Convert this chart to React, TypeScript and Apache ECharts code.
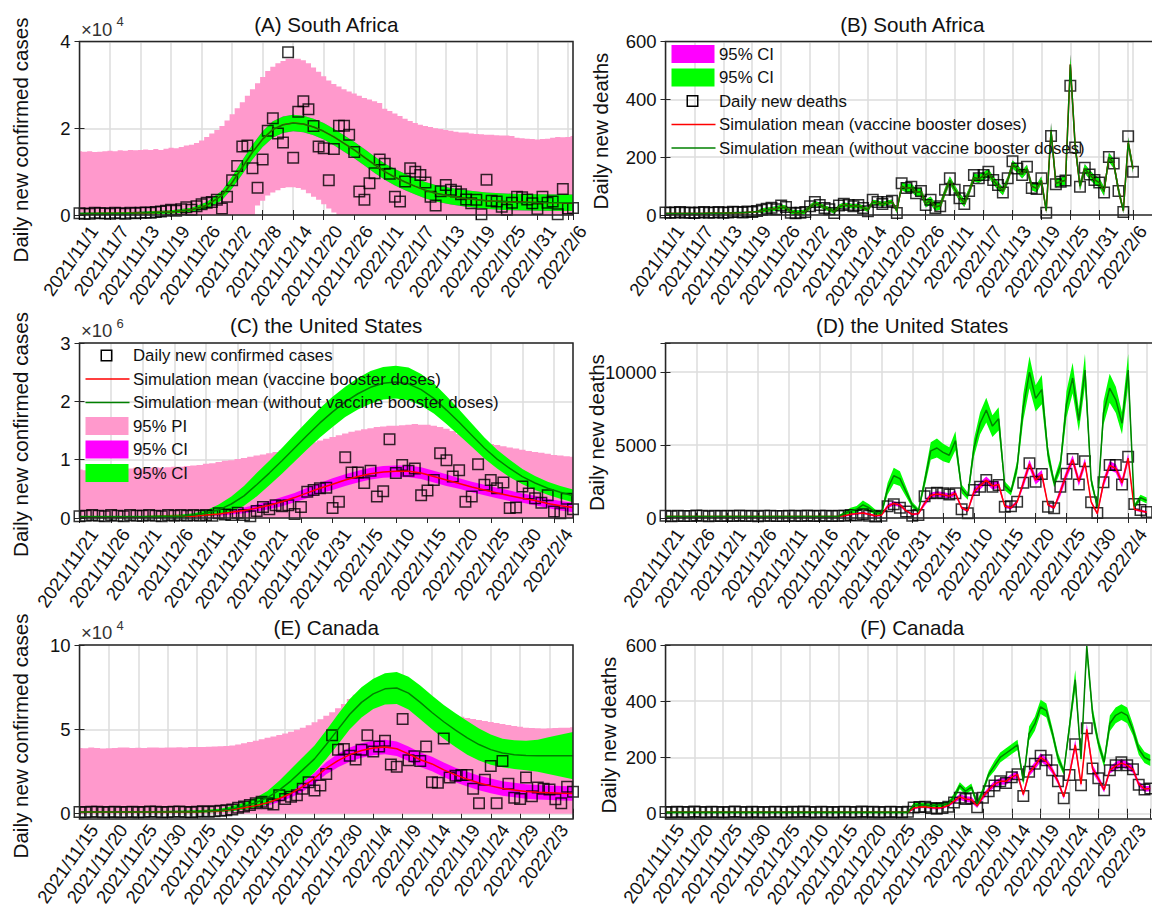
import React, { useEffect, useRef } from "react";
import * as echarts from "echarts";

const FONT = '"Liberation Sans", Arial, Helvetica, sans-serif';
const TXT = "#111111";
const AX = "#262626";
const GRIDC = "#dddddd";
const PINK = "#FF99CC";
const MAGENTA = "#FF00FF";
const GREEN = "#00FF00";
const DKGREEN = "#008000";
const RED = "#FF0000";

// ---------------- tick labels ----------------
const saTickLabels = ["2021/11/1", "2021/11/7", "2021/11/13", "2021/11/19", "2021/11/26", "2021/12/2", "2021/12/8", "2021/12/14", "2021/12/20", "2021/12/26", "2022/1/1", "2022/1/7", "2022/1/13", "2022/1/19", "2022/1/25", "2022/1/31", "2022/2/6"];
const usTickLabels = ["2021/11/21", "2021/11/26", "2021/12/1", "2021/12/6", "2021/12/11", "2021/12/16", "2021/12/21", "2021/12/26", "2021/12/31", "2022/1/5", "2022/1/10", "2022/1/15", "2022/1/20", "2022/1/25", "2022/1/30", "2022/2/4"];
const caTickLabels = ["2021/11/15", "2021/11/20", "2021/11/25", "2021/11/30", "2021/12/5", "2021/12/10", "2021/12/15", "2021/12/20", "2021/12/25", "2021/12/30", "2022/1/4", "2022/1/9", "2022/1/14", "2022/1/19", "2022/1/24", "2022/1/29", "2022/2/3"];

// ---------------- (A) South Africa cases (x1e4), 98 days ----------------
const saCases = [
  0.04, 0.03, 0.03, 0.05, 0.04, 0.04, 0.03, 0.05, 0.04, 0.03,
  0.05, 0.04, 0.05, 0.06, 0.05, 0.07, 0.08, 0.1, 0.12, 0.1,
  0.13, 0.18, 0.12, 0.2, 0.25, 0.28, 0.3, 0.35, 0.15, 0.42,
  0.8, 1.13, 1.58, 1.6, 1.08, 0.63, 1.28, 1.94, 2.23, 1.88,
  1.67, 3.75, 1.32, 2.38, 2.62, 2.44, 2.05, 1.58, 1.54, 0.8,
  1.52, 2.06, 2.06, 1.85, 1.45, 0.54, 0.35, 0.73, 0.96, 1.28,
  1.18, 0.95, 0.42, 0.31, 0.77, 1.08, 1.0, 0.92, 0.75, 0.42,
  0.22, 0.55, 0.69, 0.58, 0.54, 0.48, 0.36, 0.27, 0.35, 0.02,
  0.81, 0.33, 0.31, 0.19, 0.12, 0.28, 0.42, 0.41, 0.36, 0.27,
  0.14, 0.42, 0.28, 0.31, 0.02, 0.6, 0.15, 0.16,
];
const saPIUpper = [
  1.47, 1.46, 1.47, 1.45, 1.46, 1.47, 1.48, 1.47, 1.49, 1.48,
  1.5, 1.49, 1.5, 1.51, 1.5, 1.52, 1.5, 1.53, 1.55, 1.54,
  1.57, 1.6, 1.62, 1.66, 1.72, 1.8, 1.88, 1.96, 2.05, 2.18,
  2.32, 2.46, 2.6, 2.75, 2.9, 3.04, 3.18, 3.32, 3.42, 3.5,
  3.55, 3.6, 3.6, 3.6, 3.57, 3.5, 3.4, 3.3, 3.2, 3.1,
  3.02, 2.96, 2.9, 2.85, 2.8, 2.75, 2.7, 2.66, 2.62, 2.58,
  2.45, 2.4, 2.34, 2.28, 2.22, 2.17, 2.12, 2.08, 2.05, 2.03,
  2.0, 1.98, 1.96, 1.94, 1.92, 1.9, 1.9, 1.88, 1.87, 1.86,
  1.85, 1.85, 1.84, 1.83, 1.83, 1.82, 1.78, 1.77, 1.76, 1.75,
  1.74, 1.75, 1.76, 1.78, 1.8, 1.79, 1.8, 1.82,
];
const saPILower = [
  0, 0, 0, 0, 0, 0, 0, 0, 0, 0,
  0, 0, 0, 0, 0, 0, 0, 0, 0, 0,
  0, 0, 0, 0, 0, 0, 0, 0, 0, 0,
  0, 0, 0, 0, 0, 0.22, 0.33, 0.45, 0.52, 0.57,
  0.62, 0.64, 0.64, 0.62, 0.58, 0.5, 0.42, 0.35, 0.25, 0.15,
  0.06, 0, 0, 0, 0, 0, 0, 0, 0, 0,
  0, 0, 0, 0, 0, 0, 0, 0, 0, 0,
  0, 0, 0, 0, 0, 0, 0, 0, 0, 0,
  0, 0, 0, 0, 0, 0, 0, 0, 0, 0,
  0, 0, 0, 0, 0, 0, 0, 0,
];
const saKeyX = [0, 10, 18, 22, 25, 28, 30, 32, 34, 36, 38, 40, 42, 44, 46, 48, 50, 52, 54, 56, 58, 60, 62, 64, 66, 68, 70, 73, 76, 80, 85, 90, 97];
const saCaseMean = [0.03, 0.04, 0.07, 0.12, 0.22, 0.45, 0.75, 1.1, 1.45, 1.75, 1.97, 2.08, 2.12, 2.1, 2.03, 1.93, 1.8, 1.65, 1.5, 1.33, 1.16, 1.0, 0.87, 0.76, 0.66, 0.57, 0.5, 0.43, 0.38, 0.33, 0.3, 0.29, 0.28];
const saCaseHW = [0.03, 0.03, 0.04, 0.05, 0.08, 0.11, 0.14, 0.16, 0.17, 0.18, 0.19, 0.19, 0.19, 0.19, 0.19, 0.19, 0.19, 0.19, 0.19, 0.19, 0.19, 0.19, 0.19, 0.19, 0.19, 0.19, 0.19, 0.19, 0.19, 0.19, 0.19, 0.19, 0.19];

// ---------------- (B) South Africa deaths, 98 days ----------------
const saDeaths = [
  9, 8, 9, 10, 8, 9, 7, 9, 10, 8,
  9, 10, 8, 9, 11, 10, 9, 12, 10, 14,
  18, 22, 25, 20, 33, 28, 8, 6, 8, 10,
  30, 45, 35, 24, 20, 7, 33, 39, 35, 30,
  35, 24, 13, 53, 45, 38, 45, 49, 7, 110,
  93, 98, 75, 83, 35, 53, 24, 30, 87, 127,
  87, 58, 38, 83, 138, 127, 138, 150, 121, 104,
  78, 127, 186, 161, 138, 167, 93, 90, 127, 8,
  273, 106, 115, 119, 447, 233, 98, 163, 140, 121,
  112, 78, 201, 178, 83, 10, 272, 150,
];
const saDeathMean = [
  5, 5, 5, 5, 5, 5, 5, 5, 5, 6,
  6, 6, 6, 7, 7, 8, 8, 9, 10, 12,
  15, 18, 20, 22, 28, 25, 12, 8, 8, 12,
  28, 40, 35, 26, 20, 12, 28, 35, 33, 30,
  32, 25, 18, 45, 42, 38, 42, 46, 15, 100,
  92, 95, 78, 80, 40, 50, 28, 32, 80, 120,
  90, 62, 42, 80, 130, 125, 135, 145, 120, 100,
  82, 120, 175, 160, 140, 160, 100, 92, 120, 15,
  290, 110, 115, 120, 520, 240, 100, 160, 140, 122,
  112, 82, 200, 178, 86, 15, 250, 160,
];
const saDeathSpread = [
  3, 3, 3, 3, 3, 3, 3, 3, 3, 3,
  3, 3, 3, 3, 3, 3, 3, 3, 3, 3,
  8, 8, 8, 8, 8, 8, 8, 8, 8, 8,
  8, 8, 8, 8, 8, 8, 8, 8, 8, 8,
  8, 8, 8, 8, 8, 8, 8, 8, 8, 14,
  14, 14, 14, 14, 14, 14, 14, 14, 14, 14,
  14, 14, 14, 14, 14, 14, 14, 14, 14, 14,
  14, 14, 14, 14, 14, 14, 14, 14, 14, 10,
  28, 15, 15, 15, 35, 22, 16, 16, 16, 16,
  16, 16, 16, 16, 16, 10, 20, 16,
];

// ---------------- (C) United States cases (x1e6), 79 days ----------------
const usCases = [
  0.03, 0.04, 0.05, 0.04, 0.03, 0.05, 0.04, 0.03, 0.05, 0.04,
  0.04, 0.05, 0.04, 0.03, 0.05, 0.04, 0.05, 0.04, 0.05, 0.04,
  0.05, 0.04, 0.08, 0.06, 0.05, 0.09, 0.05, 0.03, 0.12, 0.19,
  0.15, 0.22, 0.2, 0.22, 0.07, 0.19, 0.45, 0.48, 0.51, 0.52,
  0.17, 0.28, 1.04, 0.78, 0.78, 0.6, 0.81, 0.37, 0.46, 1.35,
  0.77, 0.91, 0.81, 0.85, 0.39, 0.47, 0.65, 1.11, 0.99, 0.71,
  0.82, 0.28, 0.37, 0.92, 0.57, 0.65, 0.51, 0.61, 0.17, 0.18,
  0.54, 0.42, 0.34, 0.26, 0.39, 0.11, 0.08, 0.33, 0.15,
];
const usPIUpper = [
  0.83, 0.82, 0.83, 0.84, 0.83, 0.84, 0.85, 0.84, 0.85, 0.86,
  0.85, 0.86, 0.87, 0.86, 0.87, 0.88, 0.88, 0.89, 0.9, 0.91,
  0.93, 0.94, 0.96, 0.98, 0.99, 1.01, 1.03, 1.05, 1.07, 1.09,
  1.11, 1.13, 1.16, 1.18, 1.21, 1.24, 1.27, 1.3, 1.33, 1.36,
  1.39, 1.42, 1.45, 1.48, 1.5, 1.52, 1.54, 1.56, 1.57, 1.58,
  1.58, 1.59, 1.6, 1.61, 1.6, 1.6, 1.58, 1.56, 1.53, 1.49,
  1.44, 1.39, 1.35, 1.32, 1.29, 1.27, 1.25, 1.23, 1.21, 1.19,
  1.17, 1.15, 1.13, 1.12, 1.1, 1.08, 1.07, 1.06, 1.05,
];
const usKeyX = [0, 10, 16, 18, 20, 22, 24, 26, 28, 30, 32, 34, 36, 38, 40, 42, 44, 46, 48, 50, 52, 54, 56, 58, 60, 62, 64, 66, 68, 70, 72, 74, 76, 78];
const usGreenMean = [0.02, 0.02, 0.03, 0.05, 0.08, 0.14, 0.24, 0.38, 0.57, 0.77, 0.98, 1.2, 1.42, 1.63, 1.82, 1.99, 2.13, 2.24, 2.31, 2.33, 2.3, 2.2, 2.05, 1.85, 1.64, 1.42, 1.2, 1.01, 0.85, 0.71, 0.6, 0.51, 0.44, 0.38];
const usGreenHW = [0.02, 0.02, 0.03, 0.03, 0.05, 0.09, 0.13, 0.17, 0.2, 0.21, 0.22, 0.23, 0.24, 0.25, 0.26, 0.26, 0.27, 0.28, 0.28, 0.28, 0.28, 0.27, 0.26, 0.24, 0.22, 0.2, 0.18, 0.16, 0.15, 0.13, 0.12, 0.11, 0.11, 0.11];
const usRedMean = [0.02, 0.02, 0.03, 0.03, 0.05, 0.07, 0.1, 0.13, 0.17, 0.22, 0.28, 0.35, 0.43, 0.51, 0.58, 0.65, 0.71, 0.76, 0.79, 0.8, 0.8, 0.77, 0.71, 0.65, 0.59, 0.53, 0.48, 0.43, 0.38, 0.34, 0.3, 0.25, 0.21, 0.18];
const usRedHW = [0.01, 0.01, 0.01, 0.02, 0.02, 0.03, 0.04, 0.05, 0.06, 0.07, 0.08, 0.08, 0.09, 0.09, 0.1, 0.1, 0.1, 0.1, 0.1, 0.1, 0.1, 0.1, 0.1, 0.1, 0.09, 0.09, 0.09, 0.09, 0.09, 0.08, 0.08, 0.08, 0.08, 0.08];

// ---------------- (D) United States deaths, 79 days ----------------
const usDeaths = [
  150, 120, 160, 140, 130, 170, 150, 120, 160, 140,
  150, 130, 170, 140, 150, 120, 160, 150, 140, 130,
  160, 150, 140, 170, 130, 150, 160, 140, 150, 150,
  200, 180, 250, 150, 100, 150, 800, 950, 700, 450,
  150, 200, 1500, 1690, 1740, 1700, 1620, 1690, 594, 320,
  1920, 2150, 2600, 2150, 2263, 777, 800, 1120, 2423, 3749,
  2492, 3017, 777, 663, 2149, 3040, 4050, 2300, 3900, 1080,
  340, 2450, 3640, 3640, 2300, 4200, 960, 550, 420,
];
const usDeathRed = [
  100, 100, 100, 100, 100, 100, 100, 100, 100, 100,
  100, 100, 100, 100, 100, 100, 100, 100, 100, 100,
  100, 100, 100, 100, 100, 100, 100, 100, 100, 150,
  250, 300, 350, 250, 150, 200, 800, 1000, 900, 500,
  250, 300, 1000, 1550, 1650, 1600, 1500, 1700, 700, 500,
  1800, 2200, 2600, 2200, 2300, 800, 700, 1100, 2400, 3700,
  2600, 3000, 900, 700, 1800, 3000, 4000, 2500, 3800, 1100,
  300, 2400, 3600, 3400, 2400, 4100, 600, 500, 400,
];
const usDeathRedSpread = [
  40, 40, 40, 40, 40, 40, 40, 40, 40, 40,
  40, 40, 40, 40, 40, 40, 40, 40, 40, 40,
  40, 40, 40, 40, 40, 40, 40, 40, 40, 80,
  80, 80, 80, 80, 80, 80, 150, 150, 150, 80,
  80, 80, 180, 180, 180, 180, 180, 180, 100, 100,
  250, 250, 250, 250, 250, 120, 120, 120, 300, 300,
  300, 300, 100, 100, 300, 300, 300, 300, 300, 100,
  100, 300, 300, 300, 300, 300, 80, 80, 80,
];
const usDeathGreen = [
  100, 100, 100, 100, 100, 100, 100, 100, 100, 100,
  100, 100, 100, 100, 100, 100, 100, 100, 100, 100,
  100, 100, 100, 100, 100, 100, 100, 100, 100, 300,
  500, 600, 900, 700, 400, 300, 2000, 2900, 2700, 1800,
  900, 500, 2500, 4600, 4800, 4500, 4300, 5300, 2000, 1500,
  4800, 6500, 7400, 6300, 6800, 2200, 1800, 3500, 7600, 10000,
  8200, 8800, 4400, 2400, 3600, 7800, 9600, 6700, 10150, 2600,
  780, 7200, 8900, 8100, 6500, 10150, 800, 1400, 1200,
];
const usDeathGreenSpread = [
  60, 60, 60, 60, 60, 60, 60, 60, 60, 60,
  60, 60, 60, 60, 60, 60, 60, 60, 60, 60,
  60, 60, 60, 60, 60, 60, 60, 60, 60, 150,
  200, 220, 300, 250, 180, 150, 400, 550, 500, 350,
  200, 150, 400, 600, 650, 600, 550, 650, 300, 250,
  600, 750, 850, 750, 800, 300, 250, 450, 900, 1100,
  900, 1000, 500, 300, 450, 900, 1050, 750, 1100, 350,
  150, 800, 1000, 900, 750, 1100, 150, 200, 200,
];

// ---------------- (E) Canada cases (x1e4), 85 days ----------------
const caCases = [
  0.1, 0.08, 0.12, 0.11, 0.09, 0.1, 0.12, 0.08, 0.1, 0.11,
  0.09, 0.1, 0.13, 0.11, 0.09, 0.1, 0.12, 0.13, 0.1, 0.09,
  0.12, 0.14, 0.12, 0.15, 0.18, 0.2, 0.25, 0.35, 0.42, 0.52,
  0.62, 0.71, 0.62, 0.55, 1.1, 0.87, 1.0, 1.1, 1.48, 1.87,
  1.38, 1.67, 2.35, 4.65, 3.79, 3.83, 3.44, 3.21, 3.79, 4.65,
  3.69, 3.98, 4.33, 2.92, 2.79, 5.62, 3.17, 3.4, 3.12, 3.98,
  1.87, 1.83, 4.46, 2.15, 2.25, 2.3, 2.3, 1.48, 0.62, 2.02,
  2.83, 0.62, 3.12, 1.77, 0.94, 0.87, 2.15, 1.04, 1.55, 1.48,
  1.44, 0.85, 0.62, 1.6, 1.3,
];
const caPIUpper = [
  3.9, 3.88, 3.92, 3.9, 3.86, 3.88, 3.9, 3.93, 3.92, 3.9,
  3.91, 3.9, 3.92, 3.93, 3.91, 3.92, 3.93, 3.94, 3.93, 3.95,
  3.95, 3.96, 3.97, 3.98, 4.0, 4.02, 4.05, 4.1, 4.17, 4.25,
  4.33, 4.42, 4.5, 4.58, 4.66, 4.75, 4.86, 4.97, 5.1, 5.25,
  5.42, 5.6, 5.8, 6.02, 6.25, 6.5, 6.8, 7.05, 7.3, 7.5,
  7.65, 7.75, 7.8, 7.8, 7.75, 7.65, 7.5, 7.3, 7.05, 6.75,
  6.5, 6.3, 6.1, 5.95, 5.85, 5.75, 5.68, 5.62, 5.56, 5.5,
  5.44, 5.38, 5.32, 5.26, 5.2, 5.15, 5.1, 5.08, 5.06, 5.05,
  5.06, 5.08, 5.1, 5.1, 5.12,
];
const caKeyX = [0, 10, 20, 24, 26, 28, 30, 32, 34, 36, 38, 40, 42, 44, 46, 48, 50, 52, 54, 56, 58, 60, 62, 64, 66, 68, 70, 72, 74, 76, 78, 80, 82, 84];
const caGreenMean = [0.1, 0.1, 0.12, 0.2, 0.3, 0.45, 0.65, 0.95, 1.4, 1.95, 2.6, 3.25, 4.1, 5.0, 5.9, 6.6, 7.1, 7.4, 7.45, 7.15, 6.6, 6.0, 5.45, 4.95, 4.5, 4.1, 3.8, 3.6, 3.5, 3.45, 3.44, 3.44, 3.44, 3.44];
const caGreenHW = [0.05, 0.05, 0.08, 0.1, 0.15, 0.2, 0.3, 0.4, 0.55, 0.7, 0.75, 0.8, 0.85, 0.9, 0.9, 0.9, 0.9, 0.92, 0.95, 0.97, 1.0, 1.0, 1.0, 1.0, 1.0, 0.95, 0.9, 0.85, 0.85, 0.88, 0.95, 1.1, 1.25, 1.4];
const caRedMean = [0.1, 0.1, 0.12, 0.18, 0.25, 0.35, 0.48, 0.65, 0.9, 1.2, 1.6, 2.1, 2.7, 3.15, 3.5, 3.75, 3.9, 3.95, 3.85, 3.55, 3.2, 2.95, 2.6, 2.3, 2.05, 1.82, 1.65, 1.5, 1.4, 1.32, 1.27, 1.24, 1.21, 1.2];
const caRedHW = [0.04, 0.04, 0.05, 0.06, 0.08, 0.1, 0.13, 0.17, 0.2, 0.24, 0.28, 0.32, 0.36, 0.4, 0.42, 0.43, 0.43, 0.43, 0.43, 0.43, 0.43, 0.43, 0.43, 0.43, 0.43, 0.43, 0.43, 0.43, 0.43, 0.43, 0.43, 0.43, 0.43, 0.43];

// ---------------- (F) Canada deaths, 85 days ----------------
const caDeaths = [
  6, 5, 7, 6, 5, 8, 6, 5, 7, 6,
  5, 6, 8, 6, 5, 7, 6, 5, 6, 7,
  6, 5, 7, 6, 8, 6, 5, 7, 6, 5,
  6, 7, 6, 5, 8, 6, 7, 5, 6, 7,
  6, 5, 7, 22, 24, 25, 20, 18, 20, 25,
  40, 57, 52, 55, 23, 57, 80, 100, 115, 109,
  130, 140, 63, 149, 178, 206, 190, 155, 115, 55,
  138, 247, 101, 304, 161, 126, 83, 155, 172, 183,
  172, 158, 103, 86, 90,
];
const caDeathRed = [
  5, 5, 5, 5, 5, 5, 5, 5, 5, 5,
  5, 5, 5, 5, 5, 5, 5, 5, 5, 5,
  5, 5, 5, 5, 5, 5, 5, 5, 5, 5,
  5, 5, 5, 5, 5, 5, 5, 5, 5, 5,
  5, 5, 5, 20, 24, 25, 22, 20, 22, 30,
  45, 60, 52, 50, 28, 60, 85, 105, 115, 115,
  130, 140, 68, 145, 170, 200, 185, 155, 115, 60,
  140, 245, 105, 300, 160, 125, 85, 155, 170, 180,
  172, 158, 105, 88, 90,
];
const caDeathRedSpread = [
  3, 3, 3, 3, 3, 3, 3, 3, 3, 3,
  3, 3, 3, 3, 3, 3, 3, 3, 3, 3,
  3, 3, 3, 3, 3, 3, 3, 3, 3, 3,
  3, 3, 3, 3, 3, 3, 3, 3, 3, 3,
  3, 3, 3, 5, 5, 5, 5, 5, 5, 5,
  8, 10, 10, 10, 8, 10, 10, 12, 12, 12,
  12, 12, 8, 12, 14, 15, 14, 12, 10, 8,
  12, 18, 10, 20, 14, 12, 10, 12, 14, 14,
  14, 12, 10, 10, 10,
];
const caDeathGreen = [
  5, 5, 5, 5, 5, 5, 5, 5, 5, 5,
  5, 5, 5, 5, 5, 5, 5, 5, 5, 5,
  5, 5, 5, 5, 5, 5, 5, 5, 5, 5,
  5, 5, 5, 5, 5, 5, 5, 5, 5, 5,
  5, 5, 5, 30, 32, 30, 28, 30, 32, 35,
  60, 100, 80, 95, 35, 80, 140, 170, 200, 215,
  230, 245, 115, 285, 320, 380, 367, 290, 200, 150,
  310, 476, 195, 596, 356, 252, 183, 321, 350, 361,
  350, 298, 230, 200, 190,
];
const caDeathGreenSpread = [
  4, 4, 4, 4, 4, 4, 4, 4, 4, 4,
  4, 4, 4, 4, 4, 4, 4, 4, 4, 4,
  4, 4, 4, 4, 4, 4, 4, 4, 4, 4,
  4, 4, 4, 4, 4, 4, 4, 4, 4, 4,
  4, 4, 4, 8, 8, 8, 8, 8, 8, 8,
  12, 12, 12, 12, 12, 12, 12, 18, 18, 18,
  18, 18, 12, 25, 25, 25, 25, 18, 18, 12,
  22, 35, 15, 40, 25, 18, 18, 28, 28, 28,
  28, 20, 20, 20, 20,
];

// ---------------- layout ----------------
const COL_LEFT = [79.5, 665.5];
const PLOT_W = 493.5;
const ROWS = [
  { top: 41.5, h: 173.5 },
  { top: 343, h: 175 },
  { top: 645, h: 174 },
];

const panels = [
  { col: 0, row: 0, n: 98, step: 6, ticks: saTickLabels, yMax: 4, yInt: 2, title: "(A) South Africa", ylabel: "Daily new confirmed cases", yl: [20, 140], exp: "4" },
  { col: 1, row: 0, n: 98, step: 6, ticks: saTickLabels, yMax: 600, yInt: 200, title: "(B) South Africa", ylabel: "Daily new deaths", yl: [600, 131], exp: null },
  { col: 0, row: 1, n: 79, step: 5, ticks: usTickLabels, yMax: 3, yInt: 1, title: "(C) the United States", ylabel: "Daily new confirmed cases", yl: [20, 434.5], exp: "6" },
  { col: 1, row: 1, n: 79, step: 5, ticks: usTickLabels, yMax: 12000, yInt: 5000, title: "(D) the United States", ylabel: "Daily new deaths", yl: [596, 432.5], exp: null },
  { col: 0, row: 2, n: 85, step: 5, ticks: caTickLabels, yMax: 10, yInt: 5, title: "(E) Canada", ylabel: "Daily new confirmed cases", yl: [20, 736], exp: "4" },
  { col: 1, row: 2, n: 85, step: 5, ticks: caTickLabels, yMax: 600, yInt: 200, title: "(F) Canada", ylabel: "Daily new deaths", yl: [608, 735], exp: null },
];

const legendB = [
  { kind: "patch", color: MAGENTA, label: "95% CI" },
  { kind: "patch", color: GREEN, label: "95% CI" },
  { kind: "marker", color: "#000", label: "Daily new deaths" },
  { kind: "line", color: RED, label: "Simulation mean (vaccine booster doses)" },
  { kind: "line", color: DKGREEN, label: "Simulation mean (without vaccine booster doses)" },
];
const legendC = [
  { kind: "marker", color: "#000", label: "Daily new confirmed cases" },
  { kind: "line", color: RED, label: "Simulation mean (vaccine booster doses)" },
  { kind: "line", color: DKGREEN, label: "Simulation mean (without vaccine booster doses)" },
  { kind: "patch", color: PINK, label: "95% PI" },
  { kind: "patch", color: MAGENTA, label: "95% CI" },
  { kind: "patch", color: GREEN, label: "95% CI" },
];

// ---------------- helpers ----------------
const range = (n: number) => Array.from({ length: n }, (_, i) => i);

function bandSeries(g: number, xs: number[], lo: number[], hi: number[], color: string, stair: boolean, n: number, yMax: number, z: number) {
  const clampY = (v: number) => Math.max(0, Math.min(v, yMax));
  return {
    type: "custom",
    xAxisIndex: 2 * g,
    yAxisIndex: 2 * g,
    silent: true,
    z,
    data: xs.map((x, k) => [x, lo[k], hi[k]]),
    encode: { x: 0, y: [1, 2] },
    renderItem: (params: any, api: any) => {
      if (params.dataIndex !== 0) return null;
      const pts: number[][] = [];
      if (stair) {
        for (let k = 0; k < xs.length; k++) {
          const a = Math.max(xs[k] - 0.5, 0);
          const b = Math.min(xs[k] + 0.5, n - 1);
          pts.push(api.coord([a, clampY(hi[k])]));
          pts.push(api.coord([b, clampY(hi[k])]));
        }
        for (let k = xs.length - 1; k >= 0; k--) {
          const a = Math.max(xs[k] - 0.5, 0);
          const b = Math.min(xs[k] + 0.5, n - 1);
          pts.push(api.coord([b, clampY(lo[k])]));
          pts.push(api.coord([a, clampY(lo[k])]));
        }
      } else {
        for (let k = 0; k < xs.length; k++) pts.push(api.coord([xs[k], clampY(hi[k])]));
        for (let k = xs.length - 1; k >= 0; k--) pts.push(api.coord([xs[k], clampY(lo[k])]));
      }
      return { type: "polygon", shape: { points: pts }, style: { fill: color, stroke: null } };
    },
  };
}

function meanSpreadBand(g: number, xs: number[], mean: number[], spread: number[], color: string, n: number, yMax: number, z: number) {
  const lo = mean.map((m, k) => Math.max(0, m - spread[k]));
  const hi = mean.map((m, k) => m + spread[k]);
  return bandSeries(g, xs, lo, hi, color, false, n, yMax, z);
}

function lineSeries(g: number, xs: number[], ys: number[], color: string, z: number) {
  return {
    type: "line",
    xAxisIndex: 2 * g,
    yAxisIndex: 2 * g,
    silent: true,
    z,
    clip: true,
    showSymbol: false,
    symbol: "none",
    data: xs.map((x, k) => [x, ys[k]]),
    lineStyle: { color, width: 1.5 },
  };
}

function squareSeries(g: number, ys: number[], z: number) {
  return {
    type: "scatter",
    xAxisIndex: 2 * g,
    yAxisIndex: 2 * g,
    silent: true,
    z,
    clip: false,
    symbol: "rect",
    symbolSize: 10.5,
    data: ys.map((v, i) => [i, v]),
    itemStyle: { color: "rgba(0,0,0,0)", borderColor: "#000", borderWidth: 1.5 },
  };
}

function buildOption() {
  const grid: any[] = [];
  const xAxis: any[] = [];
  const yAxis: any[] = [];
  const graphics: any[] = [];

  panels.forEach((p, g) => {
    const left = COL_LEFT[p.col];
    const { top, h } = ROWS[p.row];
    grid.push({ left, top, width: PLOT_W, height: h, show: false, containLabel: false });

    const tickStyle = { inside: true, length: 5, lineStyle: { color: AX, width: 1 } };
    xAxis.push({
      type: "value", gridIndex: g, min: 0, max: p.n - 1, interval: p.step, position: "bottom",
      axisLine: { show: false }, axisTick: tickStyle,
      splitLine: { show: true, lineStyle: { color: GRIDC, width: 1.5 } },
      axisLabel: {
        rotate: 55, margin: 2.5, fontSize: 18.5, verticalAlign: "top", align: "right", padding: [8, 0, 0, 0],
        fontFamily: FONT, color: TXT, hideOverlap: false,
        showMinLabel: true, showMaxLabel: true,
        formatter: (v: number) => (v % p.step === 0 && p.ticks[v / p.step]) ? p.ticks[v / p.step] : "",
      },
    });
    xAxis.push({
      type: "value", gridIndex: g, min: 0, max: p.n - 1, interval: p.step, position: "top",
      axisLine: { show: false }, axisTick: tickStyle, splitLine: { show: false }, axisLabel: { show: false },
    });
    yAxis.push({
      type: "value", gridIndex: g, min: 0, max: p.yMax, interval: p.yInt, position: "left",
      axisLine: { show: false }, axisTick: tickStyle,
      splitLine: { show: true, lineStyle: { color: GRIDC, width: 1.5 } },
      axisLabel: {
        margin: 9, fontSize: 18.5, fontFamily: FONT, color: TXT, showMinLabel: true, showMaxLabel: true,
        formatter: (v: number) => (v % p.yInt === 0 ? String(v) : ""),
      },
    });
    yAxis.push({
      type: "value", gridIndex: g, min: 0, max: p.yMax, interval: p.yInt, position: "right",
      axisLine: { show: false }, axisTick: tickStyle, splitLine: { show: false }, axisLabel: { show: false },
    });

    // box on top
    graphics.push({
      type: "rect", z: 50, silent: true,
      shape: { x: left, y: top, width: PLOT_W, height: h },
      style: { fill: "none", stroke: AX, lineWidth: 1.5 },
    });
    // title
    graphics.push({
      type: "text", z: 50, silent: true, x: left + PLOT_W / 2, y: top - 17.5,
      style: { text: p.title, fontSize: 20.6, fontFamily: FONT, fill: TXT, align: "center", verticalAlign: "middle" },
    });
    // y label
    graphics.push({
      type: "text", z: 50, silent: true, x: p.yl[0], y: p.yl[1], rotation: Math.PI / 2,
      style: { text: p.ylabel, fontSize: 20.6, fontFamily: FONT, fill: TXT, align: "center", verticalAlign: "middle" },
    });
    if (p.exp) {
      graphics.push({
        type: "text", z: 50, silent: true, x: left + 1.5, y: top - 12.5,
        style: { text: "×10", fontSize: 18.5, fontFamily: FONT, fill: "#333", align: "left", verticalAlign: "middle" },
      });
      graphics.push({
        type: "text", z: 50, silent: true, x: left + 37, y: top - 20,
        style: { text: p.exp, fontSize: 13, fontFamily: FONT, fill: "#333", align: "left", verticalAlign: "middle" },
      });
    }
  });

  const addLegend = (items: any[], left: number, top: number) => {
    items.forEach((it, r) => {
      const cy = top + 12.5 + r * 23.5;
      if (it.kind === "patch") {
        graphics.push({ type: "rect", z: 60, silent: true, shape: { x: left + 6, y: cy - 9, width: 43, height: 18 }, style: { fill: it.color } });
      } else if (it.kind === "line") {
        graphics.push({ type: "line", z: 60, silent: true, shape: { x1: left + 6, y1: cy, x2: left + 50, y2: cy }, style: { stroke: it.color, lineWidth: 1.5 } });
      } else {
        graphics.push({ type: "rect", z: 60, silent: true, shape: { x: left + 27 - 5.25, y: cy - 5.25, width: 10.5, height: 10.5 }, style: { fill: "none", stroke: "#000", lineWidth: 1.5 } });
      }
      graphics.push({
        type: "text", z: 60, silent: true, x: left + 53.5, y: cy,
        style: { text: it.label, fontSize: 16.8, fontFamily: FONT, fill: TXT, align: "left", verticalAlign: "middle" },
      });
    });
  };
  addLegend(legendB, COL_LEFT[1], ROWS[0].top);
  addLegend(legendC, COL_LEFT[0], ROWS[1].top);

  const series: any[] = [];
  // A
  const dA = range(98);
  series.push(bandSeries(0, dA, saPILower, saPIUpper, PINK, true, 98, 4, 1));
  series.push(meanSpreadBand(0, saKeyX, saCaseMean, saCaseHW, MAGENTA, 98, 4, 2));
  series.push(meanSpreadBand(0, saKeyX, saCaseMean, saCaseHW, GREEN, 98, 4, 3));
  series.push(squareSeries(0, saCases, 4));
  series.push(lineSeries(0, saKeyX, saCaseMean, RED, 5));
  series.push(lineSeries(0, saKeyX, saCaseMean, DKGREEN, 6));
  // B
  series.push(meanSpreadBand(1, dA, saDeathMean, saDeathSpread, MAGENTA, 98, 600, 2));
  series.push(meanSpreadBand(1, dA, saDeathMean, saDeathSpread, GREEN, 98, 600, 3));
  series.push(squareSeries(1, saDeaths, 4));
  series.push(lineSeries(1, dA, saDeathMean, RED, 5));
  series.push(lineSeries(1, dA, saDeathMean, DKGREEN, 6));
  // C
  const dC = range(79);
  series.push(bandSeries(2, dC, dC.map(() => 0), usPIUpper, PINK, true, 79, 3, 1));
  series.push(meanSpreadBand(2, usKeyX, usRedMean, usRedHW, MAGENTA, 79, 3, 2));
  series.push(meanSpreadBand(2, usKeyX, usGreenMean, usGreenHW, GREEN, 79, 3, 3));
  series.push(squareSeries(2, usCases, 4));
  series.push(lineSeries(2, usKeyX, usRedMean, RED, 5));
  series.push(lineSeries(2, usKeyX, usGreenMean, DKGREEN, 6));
  // D
  series.push(meanSpreadBand(3, dC, usDeathRed, usDeathRedSpread, MAGENTA, 79, 12000, 2));
  series.push(meanSpreadBand(3, dC, usDeathGreen, usDeathGreenSpread, GREEN, 79, 12000, 3));
  series.push(squareSeries(3, usDeaths, 4));
  series.push(lineSeries(3, dC, usDeathRed, RED, 5));
  series.push(lineSeries(3, dC, usDeathGreen, DKGREEN, 6));
  // E
  const dE = range(85);
  series.push(bandSeries(4, dE, dE.map(() => 0), caPIUpper, PINK, true, 85, 10, 1));
  series.push(meanSpreadBand(4, caKeyX, caRedMean, caRedHW, MAGENTA, 85, 10, 2));
  series.push(meanSpreadBand(4, caKeyX, caGreenMean, caGreenHW, GREEN, 85, 10, 3));
  series.push(squareSeries(4, caCases, 4));
  series.push(lineSeries(4, caKeyX, caRedMean, RED, 5));
  series.push(lineSeries(4, caKeyX, caGreenMean, DKGREEN, 6));
  // F
  series.push(meanSpreadBand(5, dE, caDeathRed, caDeathRedSpread, MAGENTA, 85, 600, 2));
  series.push(meanSpreadBand(5, dE, caDeathGreen, caDeathGreenSpread, GREEN, 85, 600, 3));
  series.push(squareSeries(5, caDeaths, 4));
  series.push(lineSeries(5, dE, caDeathRed, RED, 5));
  series.push(lineSeries(5, dE, caDeathGreen, DKGREEN, 6));

  return {
    animation: false,
    backgroundColor: "#ffffff",
    textStyle: { fontFamily: FONT },
    grid,
    xAxis,
    yAxis,
    series,
    graphic: { elements: graphics },
  };
}

export default function App() {
  const ref = useRef<HTMLDivElement>(null);
  useEffect(() => {
    if (!ref.current) return;
    const chart = echarts.init(ref.current, null, { renderer: "svg" });
    chart.setOption(buildOption() as any);
    return () => chart.dispose();
  }, []);
  return <div ref={ref} style={{ position: "absolute", left: 0, top: 0, width: 1152, height: 910, background: "#fff" }} />;
}
